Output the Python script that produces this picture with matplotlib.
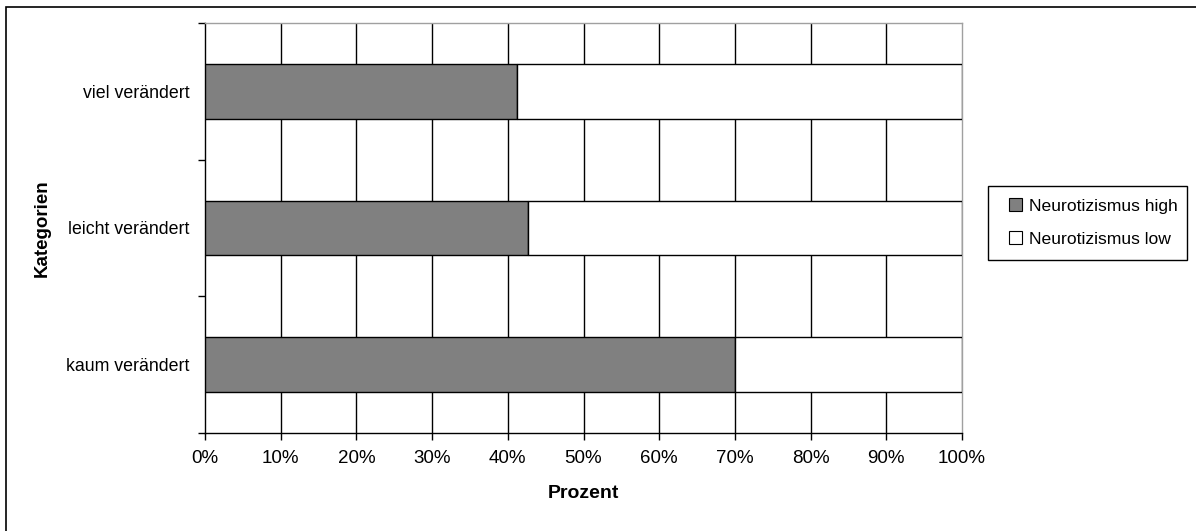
import numpy as np
import matplotlib.pyplot as plt
from matplotlib.patches import Rectangle
from matplotlib.ticker import FixedLocator

plt.rcParams['font.family'] = ['Liberation Sans', 'DejaVu Sans']

# Categories bottom to top, shares in percent
categories = ['kaum verändert', 'leicht verändert', 'viel verändert']
neuro_high = [70.0, 42.7, 41.2]
neuro_low = [100 - v for v in neuro_high]
x_ticks = list(range(0, 101, 10))
x_ticklabels = [f'{t}%' for t in x_ticks]

W, H = 1196, 531
fig = plt.figure(figsize=(W / 100, H / 100), dpi=100)
ax = fig.add_axes([205 / W, 98 / H, 757 / W, 410 / H])

# outer chart border
fig.patches.append(Rectangle((6 / W, -0.2), 1.2, 1 - 7 / H + 0.2,
                             transform=fig.transFigure, fill=False,
                             edgecolor='black', lw=1.2, clip_on=False))

y = np.arange(len(categories))
ax.barh(y, neuro_high, height=0.4, color='#808080', edgecolor='black',
        lw=1.0, label='Neurotizismus high', zorder=3)
ax.barh(y, neuro_low, left=neuro_high, height=0.4, color='white',
        edgecolor='black', lw=1.0, label='Neurotizismus low', zorder=3)

ax.set_xlim(0, 100)
ax.set_ylim(-0.5, len(categories) - 0.5)

# vertical gridlines
for t in x_ticks[1:-1]:
    ax.axvline(t, color='black', lw=1.0, zorder=1)

ax.set_xticks(x_ticks)
ax.set_xticklabels(x_ticklabels, fontsize=13.5)
ax.set_yticks(y)
ax.set_yticklabels(categories, fontsize=12.8)
ax.yaxis.set_minor_locator(FixedLocator(np.arange(-0.5, len(categories), 1.0)))
ax.tick_params(axis='y', which='major', length=0, pad=11)
ax.tick_params(axis='y', which='minor', length=5, width=1, direction='out')
ax.tick_params(axis='x', length=5, width=1, direction='out', pad=7.5)

for side in ['left', 'bottom']:
    ax.spines[side].set_color('black')
    ax.spines[side].set_linewidth(1.0)
for side in ['top', 'right']:
    ax.spines[side].set_color('#a0a0a0')
    ax.spines[side].set_linewidth(1.0)

ax.set_xlabel('Prozent', fontsize=14, fontweight='bold')
ax.xaxis.set_label_coords(0.5, -(494 - 433) / 410)
ax.xaxis.label.set_va('center')
ax.set_ylabel('Kategorien', fontsize=13.5, fontweight='bold')
ax.yaxis.set_label_coords(-(205 - 42) / 757, 0.5)
ax.yaxis.label.set_va('center')

# legend box drawn separately so the padding can be set per side
fig.patches.append(Rectangle((988 / W, 1 - 260 / H), (1187 - 988) / W,
                             (260 - 186) / H, transform=fig.transFigure,
                             facecolor='white', edgecolor='black', lw=1.0))
leg = fig.legend(loc='center left', bbox_to_anchor=(1009 / W, 1 - 222.5 / H),
                 frameon=False, fontsize=12.6,
                 handlelength=0.75, handleheight=0.75, handletextpad=0.4,
                 borderpad=0, labelspacing=1.0, borderaxespad=0)
for h in leg.legend_handles:
    h.set_linewidth(0.8)

fig.savefig('out.png', dpi=100)
